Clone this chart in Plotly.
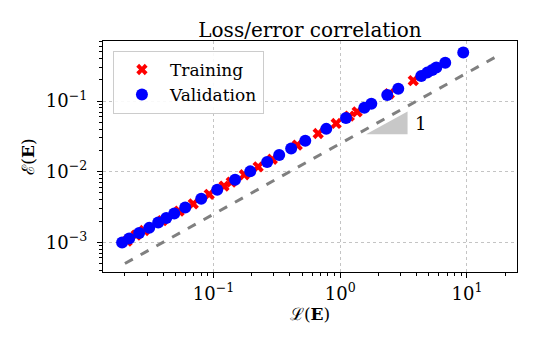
import plotly.graph_objects as go

# Data (log-log)
train_loss = [0.0208, 0.0245, 0.0284, 0.0394, 0.0536, 0.0692, 0.0925, 0.121, 0.138,
              0.175, 0.225, 0.291, 0.458, 0.670, 0.929, 1.18, 1.36, 2.44, 3.77]
train_err = [0.00104, 0.00126, 0.00147, 0.00203, 0.00276, 0.00350, 0.00478, 0.00625,
             0.00712, 0.00905, 0.0117, 0.0150, 0.0238, 0.0347, 0.0482, 0.0612, 0.0705,
             0.127, 0.195]

val_loss = [0.0190, 0.0216, 0.0259, 0.0311, 0.0366, 0.0424, 0.0490, 0.0598, 0.0800,
            0.107, 0.148, 0.195, 0.265, 0.330, 0.410, 0.530, 0.776, 1.11, 1.55, 1.76,
            2.35, 2.87, 4.36, 4.86, 5.32, 5.73, 6.74, 9.35]
val_err = [0.00099, 0.00113, 0.00135, 0.00160, 0.00190, 0.00220, 0.00255, 0.00310,
           0.00415, 0.00555, 0.0077, 0.0101, 0.0137, 0.0172, 0.0213, 0.0275, 0.0404,
           0.0578, 0.0805, 0.0915, 0.122, 0.149, 0.226, 0.253, 0.276, 0.298, 0.350,
           0.486]

# reference line (slope 1) and slope triangle
ref_x = [0.02, 18]
ref_y = [0.0005, 0.45]
tri_x = [1.6, 3.4, 3.4, 1.6]
tri_y = [0.034, 0.034, 0.071, 0.034]

x_ticks = [0.1, 1, 10]
x_labels = ["10<sup>−1</sup>", "10<sup>0</sup>", "10<sup>1</sup>"]
y_ticks = [0.001, 0.01, 0.1]
y_labels = ["10<sup>−3</sup>", "10<sup>−2</sup>", "10<sup>−1</sup>"]

minor_x = [m * 10 ** e for e in (-2, -1, 0, 1) for m in range(2, 10)]
minor_y = [m * 10 ** e for e in (-4, -3, -2, -1) for m in range(2, 10)]

font = "DejaVu Serif"

fig = go.Figure()

fig.add_trace(go.Scatter(
    x=ref_x, y=ref_y, mode="lines",
    line=dict(color="#808080", width=3, dash="dash"),
    showlegend=False, hoverinfo="skip"
))

fig.add_trace(go.Scatter(
    x=tri_x, y=tri_y, mode="lines", fill="toself",
    fillcolor="#c8c8c8", line=dict(width=0, color="#c8c8c8"),
    showlegend=False, hoverinfo="skip"
))

fig.add_trace(go.Scatter(
    x=train_loss, y=train_err, mode="markers", name="Training",
    marker=dict(symbol="x", color="red", size=10, line=dict(width=0))
))

fig.add_trace(go.Scatter(
    x=val_loss, y=val_err, mode="markers", name="Validation",
    marker=dict(symbol="circle", color="blue", size=12, line=dict(width=0))
))

fig.add_annotation(
    x=0.637, y=-1.312, xref="x", yref="y", text="1", showarrow=False,
    font=dict(family=font, size=18, color="black")
)

axis_common = dict(
    type="log", showline=True, linecolor="black", linewidth=1.2, mirror=True,
    ticks="outside", ticklen=5, tickcolor="black", tickwidth=1.2,
    showgrid=True, gridcolor="#c4c4c4", griddash="dot", gridwidth=1,
    zeroline=False, tickfont=dict(family=font, size=18, color="black"),
)

fig.update_xaxes(
    **axis_common, range=[-1.872, 1.395],
    tickvals=x_ticks, ticktext=x_labels,
    minor=dict(tickvals=minor_x, ticks="outside", ticklen=2.5, tickcolor="black",
               showgrid=False),
    title=dict(text="ℒ(<b>E</b>)", font=dict(family=font, size=17, color="black"),
               standoff=2)
)
fig.update_yaxes(
    **axis_common, range=[-3.421, -0.149],
    tickvals=y_ticks, ticktext=y_labels, ticklabelstandoff=6,
    minor=dict(tickvals=minor_y, ticks="outside", ticklen=2.5, tickcolor="black",
               showgrid=False),
    title=dict(text="ℰ(<b>E</b>)", font=dict(family=font, size=17, color="black"),
               standoff=6)
)

# page body adds an 8px offset, so the figure is sized to fit inside the window
fig.update_layout(
    width=528, height=350,
    margin=dict(l=95, r=19, t=33, b=86),
    paper_bgcolor="white", plot_bgcolor="white",
    title=dict(text="Loss/error correlation", x=0.5, xref="paper", xanchor="center",
               y=1, yref="paper", yanchor="bottom", pad=dict(b=4),
               font=dict(family=font, size=20, color="black")),
    legend=dict(x=0.024, y=0.957, xanchor="left", yanchor="top", itemwidth=46,
                bgcolor="rgba(255,255,255,0.9)", bordercolor="#cccccc", borderwidth=1,
                font=dict(family=font, size=17, color="black")),
    showlegend=True,
)

fig.write_html("out.html")
